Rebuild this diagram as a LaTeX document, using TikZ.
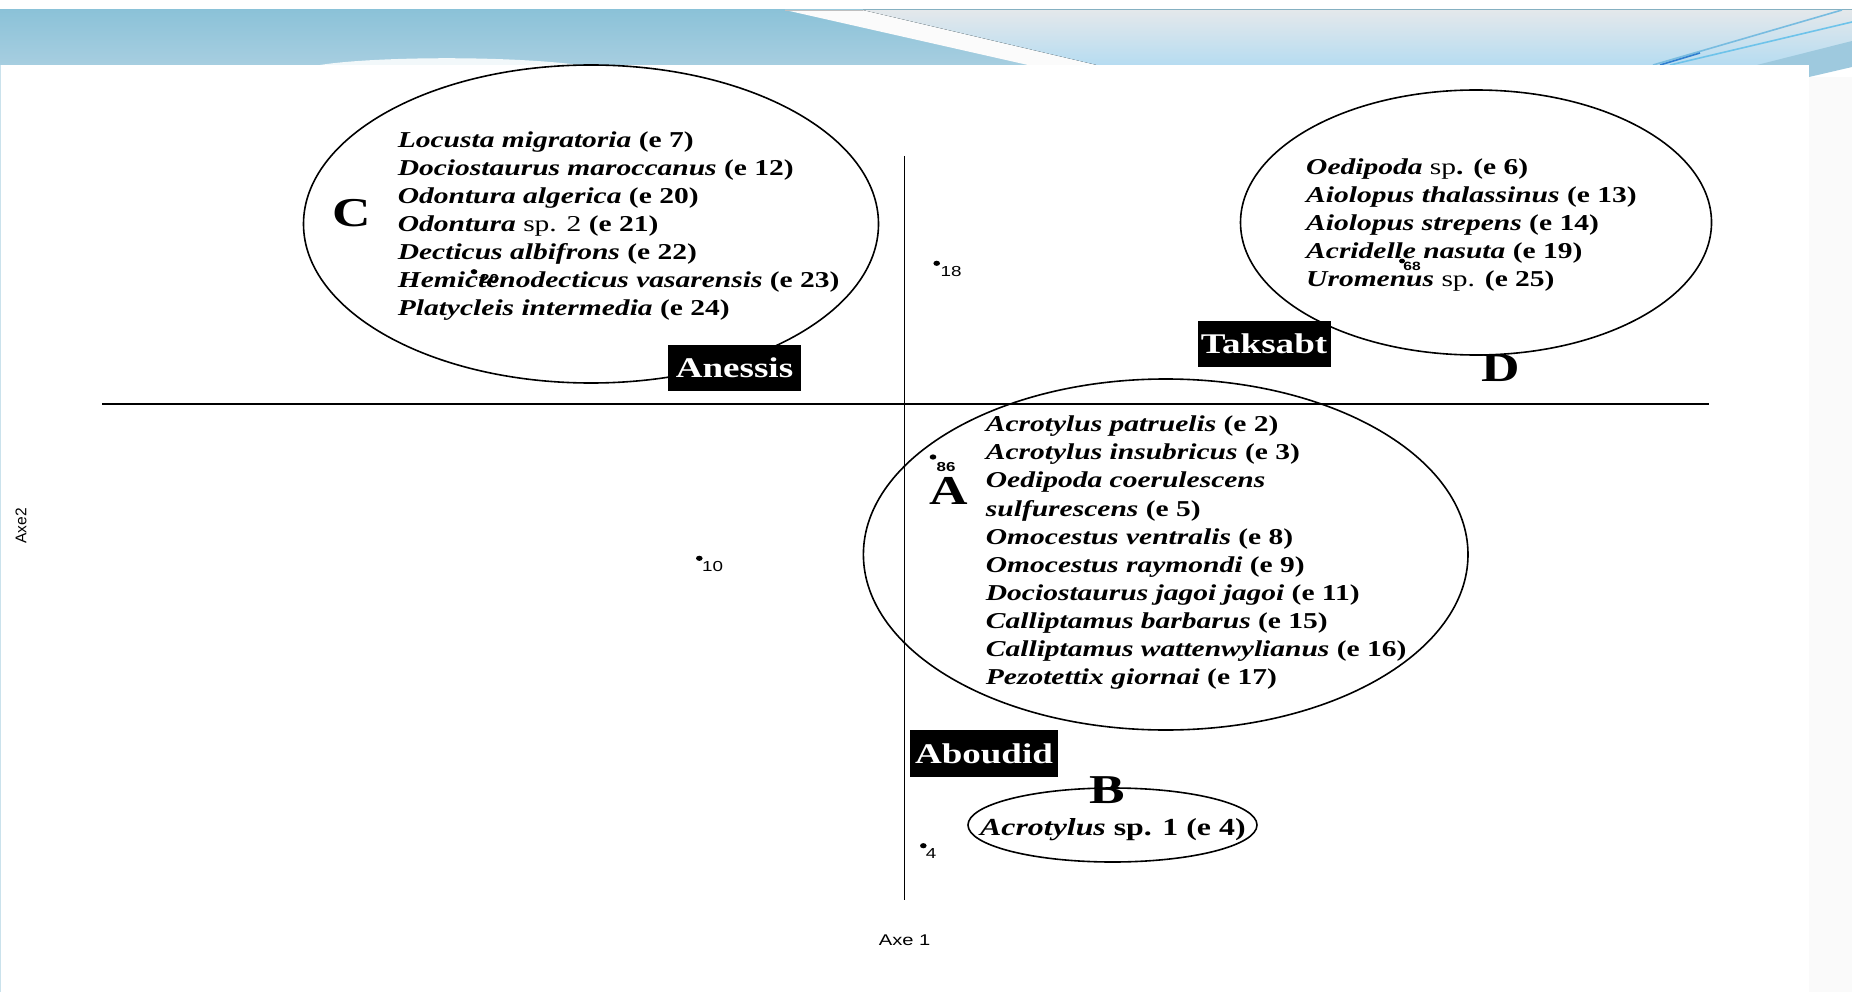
\documentclass[tikz,border=0pt]{standalone}
\usepackage{fontspec}
\setmainfont{Liberation Serif}[FakeStretch=1.3]
\newfontfamily\axfont{Liberation Sans}[FakeStretch=1.3]
\newfontfamily\axfontplain{Liberation Sans}
\definecolor{bandtop}{HTML}{8BC2D8}
\definecolor{bandbot}{HTML}{A7CEE0}
\definecolor{lighttop}{HTML}{E4E8EB}
\definecolor{lightbot}{HTML}{B6DCF1}
\definecolor{decoA}{HTML}{9EC9DE}
\definecolor{decoB}{HTML}{78BCE0}
\definecolor{decoC}{HTML}{6EC3EA}
\definecolor{decoD}{HTML}{2F7FD0}
\newcommand{\bi}[1]{\textbf{\textit{#1}}}
\tikzset{
  sptext/.style={anchor=base west, inner sep=0pt, font=\fontsize{22.7}{28}\selectfont},
  bigletter/.style={anchor=base west, inner sep=0pt, font=\fontsize{41}{41}\selectfont\bfseries},
  sitebox/.style={fill=black, text=white, inner sep=0pt, font=\fontsize{28.5}{30}\selectfont\bfseries},
  ptlabel/.style={inner sep=0pt, font=\axfont\fontsize{14.5}{15}\selectfont},
  clusterlabel/.style={inner sep=0pt, font=\axfont\bfseries\fontsize{13}{14}\selectfont},
  ptdot/.style={fill=black},
  groupell/.style={draw=black, line width=1.6pt},
  axisline/.style={draw=black, line width=1.1pt}
}
\begin{document}
\begin{tikzpicture}[x=1pt,y=-1pt]
\useasboundingbox (0,0) rectangle (1852,992);
\fill[white] (0,0) rectangle (1852,992);
% header band
\fill[top color=bandtop, bottom color=bandbot] (0,10) rectangle (1852,65);
\fill[white!97!gray] (785,10) -- (863,10) -- (1097,65) -- (1028,65) -- cycle;
\fill[top color=lighttop, bottom color=lightbot] (863,10) -- (1852,10) -- (1852,65) -- (1097,65) -- cycle;
\draw[gray!50, line width=0.8pt] (785,10.4) -- (863,10.4);
\fill[decoA] (1757,65) -- (1852,41) -- (1852,67) -- (1809,77) -- (1809,65) -- cycle;
\draw[decoB, line width=1.6pt] (1653,65) -- (1842,10);
\draw[decoC, line width=1.6pt] (1670,65) -- (1852,22);
\draw[decoD, line width=1.6pt] (1660,65) -- (1700,53);
% content area
\fill[white] (0,65) rectangle (1809,992);
\fill[white!96!gray] (1809,77) rectangle (1852,992);
\fill[white!85!bandbot] (320,65) .. controls (370,57) and (500,55) .. (580,65) -- cycle;
\draw[bandbot!60, line width=1pt] (0.5,65) -- (0.5,992);

% axes
\coordinate (hl) at (102,404);
\coordinate (hr) at (1709,404);
\coordinate (vt) at (904.6,156);
\coordinate (vb) at (904.6,900);
\draw[axisline] (hl) -- (hr);
\draw[axisline] (vt) -- (vb);
\node[ptlabel, font=\axfont\fontsize{15.5}{16}\selectfont] (axe1) at (904.6,940) {Axe 1};
\node[ptlabel, font=\axfontplain\fontsize{15.5}{16}\selectfont, rotate=90] (axe2) at (21,526) {Axe2};

% group C
\draw[groupell] (591,224) ellipse [x radius=287.5pt, y radius=159pt];
\node[bigletter] (C) at (332.5,227) {C};
\node[sptext] (c1) at (397.6,147.3) {\bi{Locusta migratoria} \textbf{(e 7)}};
\node[sptext] (c2) at (397.6,175.4) {\bi{Dociostaurus maroccanus} \textbf{(e 12)}};
\node[sptext] (c3) at (397.6,203.5) {\bi{Odontura algerica} \textbf{(e 20)}};
\node[sptext] (c4) at (397.6,231.6) {\bi{Odontura} sp. 2 \textbf{(e 21)}};
\node[sptext] (c5) at (397.6,259.7) {\bi{Decticus albifrons} \textbf{(e 22)}};
\node[sptext] (c6) at (397.6,287.8) {\bi{Hemictenodecticus vasarensis} \textbf{(e 23)}};
\node[sptext] (c7) at (397.6,315.9) {\bi{Platycleis intermedia} \textbf{(e 24)}};
\node[sitebox, minimum width=133pt, minimum height=46pt] (anessis) at (734.5,368) {Anessis};

% group D
\draw[groupell] (1476,222.5) ellipse [x radius=235.5pt, y radius=132.5pt];
\node[sptext] (d1) at (1306,175) {\bi{Oedipoda} sp\textbf{. (e 6)}};
\node[sptext] (d2) at (1306,202.9) {\bi{Aiolopus thalassinus} \textbf{(e 13)}};
\node[sptext] (d3) at (1306,230.8) {\bi{Aiolopus strepens} \textbf{(e 14)}};
\node[sptext] (d4) at (1306,258.7) {\bi{Acridelle nasuta} \textbf{(e 19)}};
\node[sptext] (d5) at (1306,286.6) {\bi{Uromenus} sp. \textbf{(e 25)}};
\node[sitebox, minimum width=133pt, minimum height=46pt] (taksabt) at (1264,344) {Taksabt};
\node[bigletter] (D) at (1481.7,381.7) {D};

% group A
\draw[groupell] (1165.7,554.5) ellipse [x radius=302.3pt, y radius=175.5pt];
\node[bigletter] (A) at (929.6,504) {A};
\node[sptext] (a1) at (985.7,431.7) {\bi{Acrotylus patruelis} \textbf{(e 2)}};
\node[sptext] (a2) at (985.7,459.8) {\bi{Acrotylus insubricus} \textbf{(e 3)}};
\node[sptext] (a3) at (985.7,487.9) {\bi{Oedipoda coerulescens}};
\node[sptext] (a4) at (985.7,516.0) {\bi{sulfurescens} \textbf{(e 5)}};
\node[sptext] (a5) at (985.7,544.1) {\bi{Omocestus ventralis} \textbf{(e 8)}};
\node[sptext] (a6) at (985.7,572.2) {\bi{Omocestus raymondi} \textbf{(e 9)}};
\node[sptext] (a7) at (985.7,600.3) {\bi{Dociostaurus jagoi jagoi} \textbf{(e 11)}};
\node[sptext] (a8) at (985.7,628.4) {\bi{Calliptamus barbarus} \textbf{(e 15)}};
\node[sptext] (a9) at (985.7,656.5) {\bi{Calliptamus wattenwylianus} \textbf{(e 16)}};
\node[sptext] (a10) at (985.7,684.6) {\bi{Pezotettix giornai} \textbf{(e 17)}};
\node[sitebox, minimum width=148pt, minimum height=47pt] (aboudid) at (984,753.5) {Aboudid};

% group B
\draw[groupell] (1112.5,825) ellipse [x radius=144.5pt, y radius=37pt];
\node[bigletter] (B) at (1089,803) {B};
\node[sptext, font=\fontsize{24.5}{28}\selectfont] (b1) at (980,835) {\bi{Acrotylus} \textbf{sp. 1 (e 4)}};

% points
\fill[ptdot] (936.7,263.3) ellipse [x radius=3.3pt, y radius=2.6pt];
\node[ptlabel] (p18) at (951,272) {18};
\fill[ptdot] (699.3,558.3) ellipse [x radius=3.3pt, y radius=2.6pt];
\node[ptlabel] (p10) at (712.5,567) {10};
\fill[ptdot] (923.3,845.7) ellipse [x radius=3.3pt, y radius=2.6pt];
\node[ptlabel] (p4) at (931,854) {4};
\fill[ptdot] (933,457) ellipse [x radius=3.3pt, y radius=2.6pt];
\node[clusterlabel] (pA) at (946,467) {86};
\fill[ptdot] (474,271.7) ellipse [x radius=3.3pt, y radius=2.6pt];
\node[clusterlabel] (pC) at (489.5,279.5) {20};
\fill[ptdot] (1402,261) ellipse [x radius=3pt, y radius=2.4pt];
\node[clusterlabel, font=\axfont\bfseries\fontsize{12}{13}\selectfont] (pD) at (1412,266) {68};
\end{tikzpicture}
\end{document}
